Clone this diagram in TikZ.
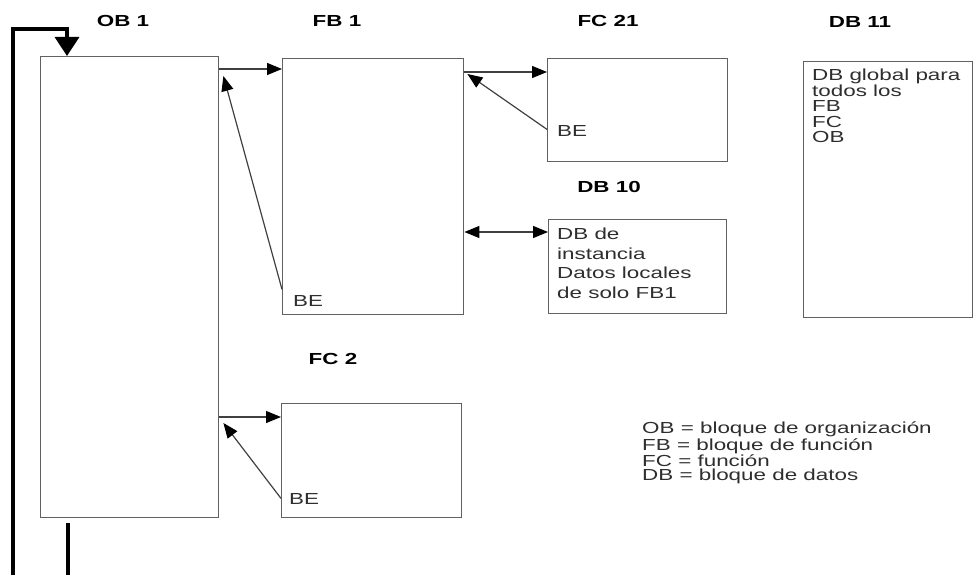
\documentclass[tikz,border=0pt]{standalone}
\usepackage{fontspec}
\setmainfont{Liberation Sans}[FakeStretch=1.4]
\usetikzlibrary{arrows.meta}

\begin{document}
\begin{tikzpicture}[
  x=1pt, y=-1pt, >={Triangle[length=15pt,width=12pt,black]},
  every node/.style={font=\fontsize{16}{14.5}\selectfont, text=black!82, inner sep=0pt},
  blk/.style={draw=black!62, line width=1.4pt, anchor=north west},
  ttl/.style={font=\fontsize{16}{18}\selectfont\bfseries, text=black},
  txt/.style={anchor=north west, align=left},
  call/.style={->, draw=black!75, line width=1.2pt},
  cyc/.style={draw=black, line width=3.5pt, line join=miter},
]
\useasboundingbox (0,0) rectangle (974,575);

% blocks
\node[blk, minimum width=178pt, minimum height=461pt] (ob1) at (40,56) {};
\node[blk, minimum width=181pt, minimum height=256pt] (fb1) at (282,58) {};
\node[blk, minimum width=180pt, minimum height=103pt] (fc21) at (547,58) {};
\node[blk, minimum width=178pt, minimum height=94pt] (db10) at (548,219) {};
\node[blk, minimum width=169pt, minimum height=256pt] (db11) at (803,61) {};
\node[blk, minimum width=180pt, minimum height=114pt] (fc2) at (281,403) {};

% titles
\node[ttl] (t-ob1) at (123,21) {OB 1};
\node[ttl] (t-fb1) at (337,21) {FB 1};
\node[ttl] (t-fc21) at (608,21) {FC 21};
\node[ttl] (t-db11) at (860,22) {DB 11};
\node[ttl] (t-db10) at (609,187) {DB 10};
\node[ttl] (t-fc2) at (333,359) {FC 2};

% texts in the blocks
\node[txt] (be1) at (293,295) {BE};
\node[txt] (be2) at (557,125) {BE};
\node[txt] (be3) at (289,493) {BE};
\node[txt, font=\fontsize{16}{19.6}\selectfont] (db10txt) at (557,228)
  {DB de\\instancia\\Datos locales\\de solo FB1};
\node[txt, font=\fontsize{16}{15.5}\selectfont] (db11txt) at (812,69)
  {DB global para\\todos los\\FB\\FC\\OB};

% legend
\node[txt] (legend) at (642,422)
  {OB = bloque de organización\\FB = bloque de función\\FC = función\\DB = bloque de datos};

% calls
\coordinate (f1in) at ([yshift=-11pt]fb1.north west);
\coordinate (c21in) at ([yshift=-14pt]fc21.north west);
\coordinate (d10in) at ([yshift=-13pt]db10.north west);
\coordinate (c2in) at ([yshift=-14pt]fc2.north west);
\coordinate (c2out) at (c2in -| ob1.east);
\draw[call] (f1in -| ob1.east) -- (f1in);
\draw[call] (c21in -| fb1.east) -- (c21in);
\draw[call, <->] (d10in -| fb1.east) -- (d10in);
\draw[call] (c2out) -- (c2in);

% returns (BE)
\draw[call] ([yshift=26pt]fb1.south west) -- ([xshift=4pt,yshift=-20pt]ob1.north east);
\draw[call] ([yshift=33pt]fc21.south west) -- ([xshift=3pt,yshift=-16pt]fb1.north east);
\draw[call] ([yshift=20pt]fc2.south west) -- ([xshift=4pt,yshift=-6pt]c2out);

% cycle of OB 1
\coordinate (cycin) at (13,575);
\coordinate (cycout) at (68,575);
\draw[cyc, -{Triangle[length=19pt,width=24pt]}] (cycin)
  |- ([xshift=27pt,yshift=27pt]ob1.north west) -- ([xshift=27pt]ob1.north west);
\draw[cyc] ([xshift=28pt,yshift=-5pt]ob1.south west) -- (cycout);
\end{tikzpicture}
\end{document}
